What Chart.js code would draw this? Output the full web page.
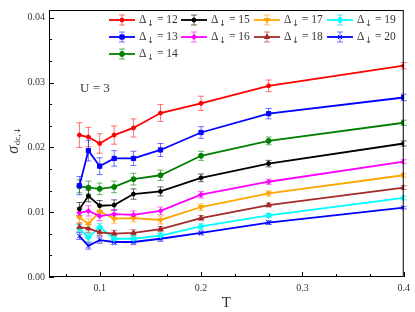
<!DOCTYPE html>
<html>
<head>
<meta charset="utf-8">
<script src="https://cdn.jsdelivr.net/npm/chart.js@4.4.0/dist/chart.umd.min.js"></script>
<style>
  html, body { margin: 0; padding: 0; background: #fff; }
  canvas { display: block; }
</style>
</head>
<body>
<canvas id="mainCanvas" width="415" height="312"></canvas>
<script>
/* ===== data ===== */
// T = 1/beta, beta = 12.5, 11.25, 10, 8.75, 7.5, 6.25, 5, 3.75, 2.5
const T_VALUES = [1/12.5, 1/11.25, 0.1, 1/8.75, 1/7.5, 0.16, 0.2, 1/3.75, 0.4];
const DELTAS   = [12, 13, 14, 15, 16, 17, 18, 19, 20];

const SIGMA_12 = [0.0219, 0.0216, 0.0206, 0.0219, 0.0230, 0.0253, 0.0268, 0.0295, 0.0326];
const SIGMA_13 = [0.0141, 0.0195, 0.0171, 0.0183, 0.0183, 0.0196, 0.0223, 0.0252, 0.0277];
const SIGMA_14 = [0.0140, 0.0138, 0.0136, 0.0139, 0.0151, 0.0157, 0.0187, 0.0210, 0.0238];
const SIGMA_15 = [0.0105, 0.0125, 0.0110, 0.0111, 0.0128, 0.0132, 0.0153, 0.0175, 0.0206];
const SIGMA_16 = [0.0099, 0.0102, 0.0094, 0.0097, 0.0096, 0.0102, 0.0127, 0.0147, 0.0178];
const SIGMA_17 = [0.0092, 0.0082, 0.0101, 0.0090, 0.0091, 0.0088, 0.0108, 0.0129, 0.0157];
const SIGMA_18 = [0.0077, 0.0075, 0.0069, 0.0067, 0.0068, 0.0074, 0.0091, 0.0111, 0.0138];
const SIGMA_19 = [0.0075, 0.0061, 0.0077, 0.0059, 0.0059, 0.0064, 0.0078, 0.0095, 0.0122];
const SIGMA_20 = [0.0063, 0.0048, 0.0057, 0.0054, 0.0054, 0.0059, 0.0068, 0.0084, 0.0107];

const ERR_12 = [0.0019, 0.0015, 0.0015, 0.0014, 0.0014, 0.0013, 0.0011, 0.0009, 0.0005];
const ERR_13 = [0.0014, 0.0016, 0.0013, 0.0012, 0.0011, 0.0010, 0.0009, 0.0008, 0.0005];
const ERR_14 = [0.0010, 0.0010, 0.0009, 0.0009, 0.0009, 0.0008, 0.0007, 0.0006, 0.0004];
const ERR_15 = [0.0010, 0.0009, 0.0008, 0.0008, 0.0008, 0.0007, 0.0006, 0.0005, 0.0004];
const ERR_16 = [0.0008, 0.0008, 0.0007, 0.0007, 0.0006, 0.0006, 0.0005, 0.0004, 0.0003];
const ERR_17 = [0.0008, 0.0008, 0.0007, 0.0007, 0.0006, 0.0006, 0.0005, 0.0004, 0.0003];
const ERR_18 = [0.0006, 0.0006, 0.0005, 0.0005, 0.0005, 0.0004, 0.0004, 0.0003, 0.0003];
const ERR_19 = [0.0006, 0.0006, 0.0006, 0.0005, 0.0005, 0.0004, 0.0004, 0.0003, 0.0003];
const ERR_20 = [0.0005, 0.0005, 0.0005, 0.0004, 0.0004, 0.0004, 0.0003, 0.0003, 0.0002];

const X_TICKS = [2, 3, 4, 5, 6, 7, 8, 9, 10, 11, 12].map(i => i / 30);
const Y_TICKS = [0, 1, 2, 3, 4, 5, 6, 7, 8, 9, 10, 11, 12].map(i => i / 300);

/* ===== styles ===== */
const SERIES = [
  { vals: SIGMA_12, errs: ERR_12, color: '#ff0000', err: 'rgba(255,0,0,0.55)',     marker: 'circle',   r: 2 },
  { vals: SIGMA_13, errs: ERR_13, color: '#0000ff', err: 'rgba(0,0,255,0.55)',     marker: 'rect',     r: 3 },
  { vals: SIGMA_14, errs: ERR_14, color: '#008000', err: 'rgba(0,128,0,0.6)',      marker: 'circle',   r: 2.5 },
  { vals: SIGMA_15, errs: ERR_15, color: '#000000', err: 'rgba(0,0,0,0.6)',        marker: 'circle',   r: 2 },
  { vals: SIGMA_16, errs: ERR_16, color: '#ff00ff', err: 'rgba(255,0,255,0.6)',    marker: 'rectRot',  r: 2.5 },
  { vals: SIGMA_17, errs: ERR_17, color: '#ffa500', err: 'rgba(255,165,0,0.65)',   marker: 'triangle', r: 3, rot: 180 },
  { vals: SIGMA_18, errs: ERR_18, color: '#a52a2a', err: 'rgba(165,42,42,0.6)',    marker: 'triangle', r: 3 },
  { vals: SIGMA_19, errs: ERR_19, color: '#00ffff', err: 'rgba(0,220,220,0.65)',   marker: 'rectRot',  r: 3 },
  { vals: SIGMA_20, errs: ERR_20, color: '#0000ff', err: 'rgba(0,0,255,0.55)',     marker: 'crossRot', r: 3 }
];
const SERIF = '"Liberation Serif", "DejaVu Serif", serif';
const ARROW_FONT = '"DejaVu Sans", sans-serif';
const TEXT_COLOR = '#333';

/* ===== error bars ===== */
const errorBarPlugin = {
  id: 'errorBars',
  beforeDatasetsDraw(chart) {
    const { ctx, scales: { x, y } } = chart;
    ctx.save();
    ctx.lineWidth = 1;
    chart.data.datasets.forEach(ds => {
      ctx.strokeStyle = ds.errColor;
      ds.data.forEach((p, i) => {
        const e = ds.errs[i];
        const px = x.getPixelForValue(p.x);
        const y1 = y.getPixelForValue(p.y - e);
        const y2 = y.getPixelForValue(p.y + e);
        ctx.beginPath();
        ctx.moveTo(px, y1); ctx.lineTo(px, y2);
        ctx.moveTo(px - 3, y1); ctx.lineTo(px + 3, y1);
        ctx.moveTo(px - 3, y2); ctx.lineTo(px + 3, y2);
        ctx.stroke();
      });
    });
    ctx.restore();
  }
};

/* ===== frame, inward ticks, titles, legend ===== */
function drawDeltaLabel(ctx, x, y, n) {
  ctx.textAlign = 'left';
  ctx.textBaseline = 'middle';
  ctx.font = `11.5px ${SERIF}`;
  ctx.fillText('Δ', x, y);
  let w = ctx.measureText('Δ').width;
  ctx.font = `8.5px ${ARROW_FONT}`;
  ctx.fillText('↓', x + w + 0.5, y + 3.5);
  w += ctx.measureText('↓').width + 0.5;
  ctx.font = `11.5px ${SERIF}`;
  ctx.fillText(` = ${n}`, x + w, y);
}

const decorPlugin = {
  id: 'decor',
  afterDraw(chart) {
    const { ctx, chartArea: a, scales: { x, y } } = chart;
    ctx.save();
    ctx.strokeStyle = '#000';
    ctx.lineWidth = 1;
    ctx.strokeRect(a.left + 0.5, a.top + 0.5, a.right - a.left - 1, a.bottom - a.top - 1);

    ctx.beginPath();
    x.ticks.forEach(t => {
      const px = Math.round(x.getPixelForValue(t.value)) + 0.5;
      const len = t.label ? 5 : 3;
      ctx.moveTo(px, a.bottom); ctx.lineTo(px, a.bottom - len);
    });
    y.ticks.forEach(t => {
      const py = Math.round(y.getPixelForValue(t.value)) + 0.5;
      const len = t.label ? 5 : 3;
      ctx.moveTo(a.left, py); ctx.lineTo(a.left + len, py);
    });
    ctx.stroke();

    // axis titles
    ctx.fillStyle = TEXT_COLOR;
    ctx.font = `15px ${SERIF}`;
    ctx.textAlign = 'center';
    ctx.textBaseline = 'middle';
    ctx.fillText('T', (a.left + a.right) / 2, 303);

    ctx.save();
    ctx.translate(14, 141);
    ctx.rotate(-Math.PI / 2);
    ctx.textAlign = 'left';
    ctx.font = `italic 16px ${SERIF}`;
    const w1 = ctx.measureText('σ').width;
    ctx.font = `9px ${SERIF}`;
    const w2 = ctx.measureText('dc,').width;
    ctx.font = `8px ${ARROW_FONT}`;
    const w3 = ctx.measureText('↓').width;
    const sx = -(w1 + w2 + w3) / 2;
    ctx.font = `italic 16px ${SERIF}`;
    ctx.fillText('σ', sx, 0);
    ctx.font = `9px ${SERIF}`;
    ctx.fillText('dc,', sx + w1 + 0.5, 4);
    ctx.font = `8px ${ARROW_FONT}`;
    ctx.fillText('↓', sx + w1 + w2 + 1, 4);
    ctx.restore();

    // U = 3
    ctx.font = `13px ${SERIF}`;
    ctx.textAlign = 'left';
    ctx.fillText('U = 3', 80, 89);

    // legend: 4 columns, column-major
    const colX = [109, 181, 254, 327];
    const rowY = [20, 37, 54];
    chart.data.datasets.forEach((ds, i) => {
      const col = i < 3 ? 0 : 1 + Math.floor((i - 3) / 2);
      const row = i < 3 ? i : (i - 3) % 2;
      const lx = colX[col], ly = rowY[row];
      ctx.strokeStyle = ds.borderColor;
      ctx.lineWidth = 1.8;
      ctx.beginPath(); ctx.moveTo(lx, ly); ctx.lineTo(lx + 26, ly); ctx.stroke();
      const cx = lx + 13;
      ctx.strokeStyle = ds.errColor;
      ctx.lineWidth = 1;
      ctx.beginPath();
      ctx.moveTo(cx, ly - 5); ctx.lineTo(cx, ly + 5);
      ctx.moveTo(cx - 3, ly - 5); ctx.lineTo(cx + 3, ly - 5);
      ctx.moveTo(cx - 3, ly + 5); ctx.lineTo(cx + 3, ly + 5);
      ctx.stroke();
      ctx.fillStyle = ds.pointBackgroundColor;
      ctx.strokeStyle = ds.pointBorderColor;
      Chart.helpers.drawPoint(ctx, {
        pointStyle: ds.pointStyle, radius: ds.pointRadius, rotation: ds.pointRotation, borderWidth: 1
      }, cx, ly);
      ctx.fillStyle = TEXT_COLOR;
      drawDeltaLabel(ctx, lx + 30, ly, DELTAS[i]);
    });
    ctx.restore();
  }
};

/* ===== chart ===== */
const datasets = SERIES.map((s, i) => ({
  label: `Δ↓ = ${DELTAS[i]}`,
  data: T_VALUES.map((t, j) => ({ x: t, y: s.vals[j] })),
  errs: s.errs,
  errColor: s.err,
  borderColor: s.color,
  backgroundColor: s.color,
  pointBackgroundColor: s.color,
  pointBorderColor: s.color,
  pointStyle: s.marker,
  pointRadius: s.r,
  pointRotation: s.rot || 0,
  pointBorderWidth: 1,
  borderWidth: 1.8,
  tension: 0,
  fill: false
}));

new Chart(document.getElementById('mainCanvas').getContext('2d'), {
  type: 'line',
  data: { datasets },
  options: {
    responsive: false,
    animation: false,
    layout: { padding: { left: 0, right: 8, top: 6, bottom: 0 } },
    plugins: { legend: { display: false }, tooltip: { enabled: false } },
    scales: {
      x: {
        type: 'linear',
        min: 0.05,
        max: 0.4,
        afterBuildTicks: s => { s.ticks = X_TICKS.map(v => ({ value: v })); },
        afterFit: s => { s.height = 35; },
        grid: { display: false, drawTicks: false },
        border: { display: false },
        ticks: {
          autoSkip: false,
          maxRotation: 0,
          padding: 5,
          color: TEXT_COLOR,
          font: { family: SERIF, size: 10 },
          callback: v => Math.abs(v * 10 - Math.round(v * 10)) < 1e-9 ? v.toFixed(1) : ''
        }
      },
      y: {
        type: 'linear',
        min: 0,
        max: 0.0412,
        afterBuildTicks: s => { s.ticks = Y_TICKS.map(v => ({ value: v })); },
        afterFit: s => { s.width = 49; },
        grid: { display: false, drawTicks: false },
        border: { display: false },
        ticks: {
          autoSkip: false,
          padding: 4,
          color: TEXT_COLOR,
          font: { family: SERIF, size: 10 },
          callback: v => Math.abs(v * 100 - Math.round(v * 100)) < 1e-9 ? v.toFixed(2) : ''
        }
      }
    }
  },
  plugins: [errorBarPlugin, decorPlugin]
});
</script>
</body>
</html>
